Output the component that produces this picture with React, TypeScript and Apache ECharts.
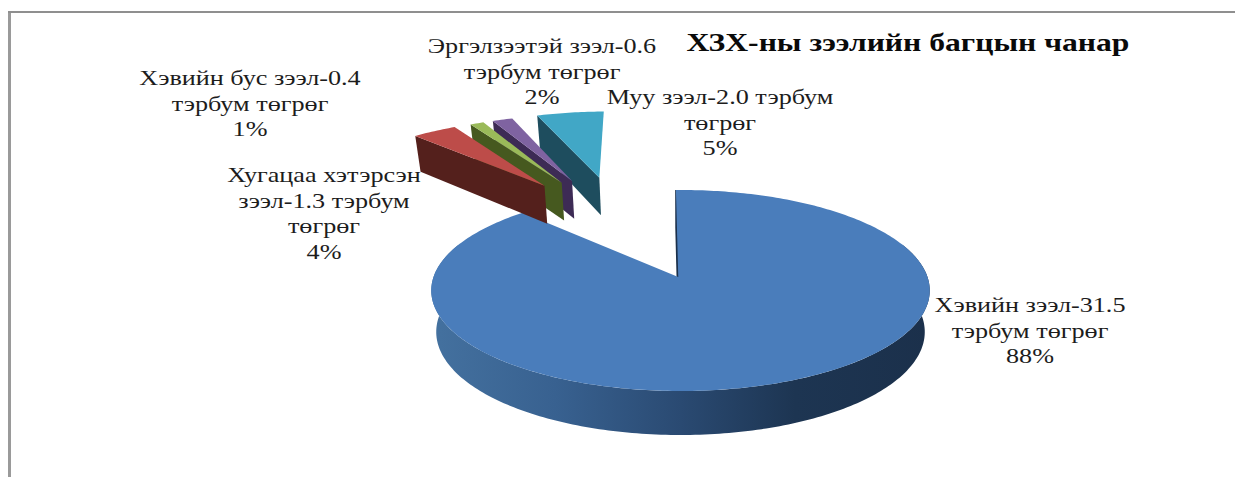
import React, { useEffect, useRef } from "react";
import * as echarts from "echarts";

const categories = ["Хэвийн зээл", "Хугацаа хэтэрсэн зээл", "Хэвийн бус зээл", "Эргэлзээтэй зээл", "Муу зээл"];
const values = [31.5, 1.3, 0.4, 0.6, 2.0];
const labelLines = [
  "Хэвийн зээл-31.5\nтэрбум төгрөг\n88%",
  "Хугацаа хэтэрсэн\nзээл-1.3 тэрбум\nтөгрөг\n4%",
  "Хэвийн бус зээл-0.4\nтэрбум төгрөг\n1%",
  "Эргэлзээтэй зээл-0.6\nтэрбум төгрөг\n2%",
  "Муу зээл-2.0 тэрбум\nтөгрөг\n5%",
];
const titleText = "ХЗХ-ны зээлийн багцын чанар";

// layout and styling (not data)
const labelPos = [
  [1030, 292], [324, 162], [250, 65], [542, 33], [720, 84],
];
const topColors = ["#4a7dbb", "#bd4c49", "#9aba59", "#7f63a1", "#41a7c6"];
const wallColors = ["#2a4a72", "#54201c", "#46591f", "#3d2b55", "#1e4d5e"];

const CX = 680.5, CY = 277, A = 247, B = 98.7, D = 7.45;
const START_DEG = -1.2;
const EXPLODE = 1.22;
const rad = (d: number) => (d * Math.PI) / 180;

function project(u: number, v: number, drop: boolean): number[] {
  const s = D / (D + v);
  let x = CX + A * u * s;
  let y = CY - B * v * s;
  if (drop) {
    x = CX + (x - CX) * 0.98;
    y += 41 - 3 * v;
  }
  return [x, y];
}

const total = values.reduce((a, b) => a + b, 0);

function renderSlice(params: any, api: any) {
  const i = params.dataIndex;
  let before = 0;
  for (let k = 0; k < i; k++) before += values[k];
  const sweep = (api.value(0) / total) * 360;
  const a0 = START_DEG + (before / total) * 360;
  const a1 = a0 + sweep;
  const rim = (t: number, ou: number, ov: number, drop: boolean) =>
    project(ou + Math.sin(rad(t)), ov + Math.cos(rad(t)), drop);

  const children: any[] = [];
  const base = i === 0 ? 1 : (10 - i) * 10;
  let ou = 0, ov = 0;
  if (i > 0) {
    const mid = (a0 + a1) / 2 - 360;
    const dir = -12 + 0.48 * mid;
    ou = EXPLODE * Math.sin(rad(dir)) - 0.015;
    ov = EXPLODE * Math.cos(rad(dir));
  }
  const arc: number[][] = [];
  const steps = Math.max(4, Math.ceil(sweep));
  for (let k = 0; k <= steps; k++) arc.push(rim(a0 + (sweep * k) / steps, ou, ov, false));
  const apexU = i === 0 ? -0.009 : ou;
  const apexTop = project(apexU, ov, false);
  const apexBot = project(apexU, ov, true);

  if (i === 0) {
    const top: number[][] = [], bot: number[][] = [];
    for (let t = 70; t <= 290; t += 1) {
      top.push(rim(t, 0, 0, false));
      bot.unshift(rim(t, 0, 0, true));
    }
    children.push({
      type: "polygon",
      z2: base,
      shape: { points: top.concat(bot) },
      style: {
        fill: new echarts.graphic.LinearGradient(1, 0, 0, 0, [
          { offset: 0, color: "#1b304b" },
          { offset: 0.27, color: "#1d3552" },
          { offset: 0.5, color: "#2a4a72" },
          { offset: 0.75, color: "#386190" },
          { offset: 1, color: "#44719f" },
        ]),
      },
    });
    children.push({
      type: "polygon",
      z2: base + 1,
      shape: { points: [rim(a0, 0, 0, false), apexTop, apexBot, rim(a0, 0, 0, true)] },
      style: { fill: "#1b304b", stroke: "#1b304b", lineWidth: 1.5 },
    });
  } else {
    children.push({
      type: "polygon",
      z2: base,
      shape: { points: [apexTop, rim(a0, ou, ov, false), rim(a0, ou, ov, true), apexBot] },
      style: { fill: wallColors[i] },
    });
  }
  children.push({
    type: "polygon",
    z2: base + 2,
    shape: { points: [apexTop].concat(arc) },
    style: { fill: topColors[i] },
  });
  return { type: "group", children };
}

export default function App() {
  const ref = useRef<HTMLDivElement>(null);
  useEffect(() => {
    document.body.style.margin = "0";
    document.body.style.background = "#fff";
    const chart = echarts.init(ref.current!, undefined, { renderer: "svg" });
    chart.setOption({
      animation: false,
      backgroundColor: "#ffffff",
      series: [
        {
          type: "custom",
          coordinateSystem: "none",
          name: "ХЗХ",
          data: values.map((v, i) => ({ name: categories[i], value: [v] })),
          renderItem: renderSlice,
          silent: true,
        },
      ],
      graphic: [
        { type: "rect", shape: { x: 8, y: 11, width: 3, height: 466 }, style: { fill: "#9a9a9a" }, silent: true },
        { type: "rect", shape: { x: 8, y: 11, width: 1227, height: 2 }, style: { fill: "#8f8f8f" }, silent: true },
        {
          type: "text",
          z: 20,
          x: 908,
          y: 42,
          scaleX: 1.217,
          style: {
            text: titleText,
            x: 0,
            y: 0,
            textAlign: "center",
            textVerticalAlign: "middle",
            font: 'bold 26px "Liberation Serif"',
            fill: "#0a0a0a",
          },
        },
        ...labelLines.map((t, i) => ({
          type: "text",
          z: 20,
          x: labelPos[i][0],
          y: labelPos[i][1],
          scaleX: 1.19,
          style: {
            text: t,
            x: 0,
            y: 0,
            textAlign: "center",
            textVerticalAlign: "top",
            font: '22px "Liberation Serif"',
            lineHeight: 25.5,
            fill: "#1c1c1c",
          },
        })),
      ],
    });
    return () => chart.dispose();
  }, []);
  return <div ref={ref} style={{ position: "absolute", left: 0, top: 0, width: 1235, height: 477 }} />;
}
